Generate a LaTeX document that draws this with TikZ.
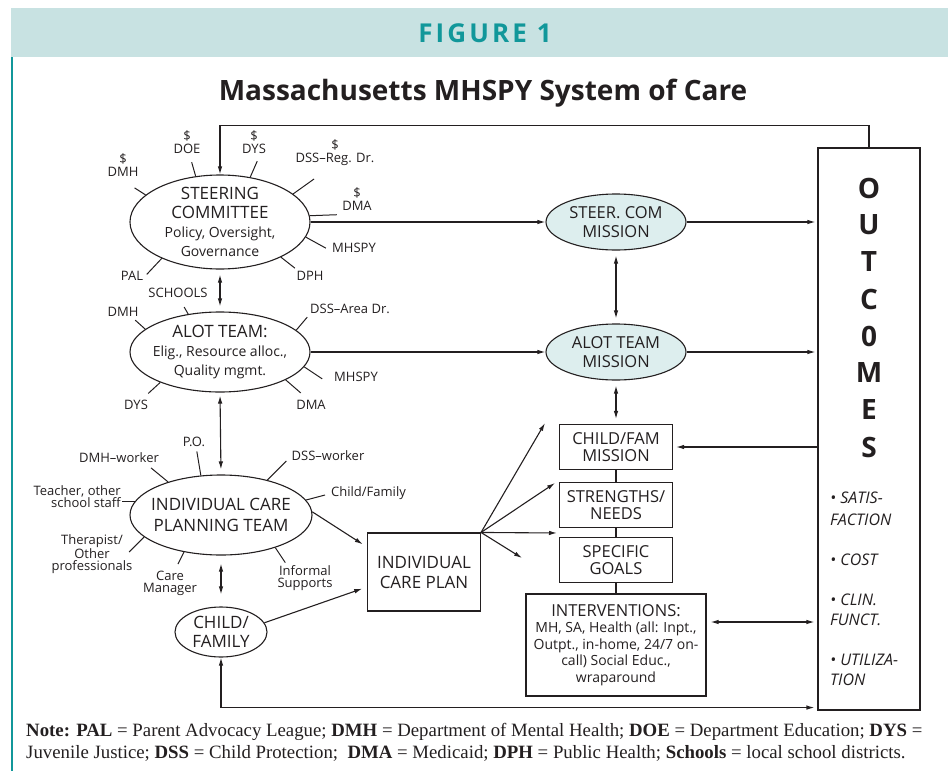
\documentclass[tikz,border=0pt]{standalone}
\usepackage{fontspec}
\setmainfont{Open Sans}
\newfontfamily\notefont{Liberation Serif}
\usepackage{tikz}
\usetikzlibrary{shapes.geometric, arrows.meta, calc}

\definecolor{bannerfill}{HTML}{C8E2E2}
\definecolor{figteal}{HTML}{11979A}
\definecolor{missionfill}{HTML}{DDEEEE}
\definecolor{ink}{HTML}{231F20}

\newcommand{\smalltext}{\fontsize{14}{16}\selectfont}

\begin{document}
\begin{tikzpicture}[
                x=1pt, y=-1pt, % pixel-like grid, y grows downwards
                every node/.style={text=ink, inner sep=1pt, font=\fontsize{13}{13}\selectfont},
                team/.style={ellipse, draw=ink, line width=1.1pt, fill=white, align=center, inner sep=-14pt}, % big ellipses
                mission/.style={team, fill=missionfill, minimum width=140pt, minimum height=56pt, font=\fontsize{16.5}{19.5}\selectfont},
                plan/.style={rectangle, draw=ink, line width=1.1pt, align=center, inner sep=2pt, minimum width=113pt, minimum height=45pt, font=\fontsize{16.5}{17}\selectfont},
                lbl/.style={align=center, font=\fontsize{13}{13}\selectfont}, % agency names round the ellipses
                outitem/.style={align=left, anchor=west, font=\fontsize{16}{22}\selectfont\itshape},
                note/.style={anchor=base west, inner sep=0pt, font=\notefont\fontsize{18.8}{22}\selectfont},
                link/.style={draw=ink, line width=1.1pt},
                spoke/.style={draw=ink, line width=1pt},
                dbl/.style={link, <->, shorten <=5pt, shorten >=5pt},
                >={Latex[length=8pt, width=4.5pt]}
                ]
\useasboundingbox (0,0) rectangle (948,771);

% header band
\fill[bannerfill] (11,8) rectangle (948,57);
\draw[figteal, line width=1.6pt] (11.8,57) -- (11.8,771);
\node[text=figteal, font={\fontsize{26}{26}\selectfont\bfseries\addfontfeature{LetterSpace=12}}] (fig) at (485,33) {FIGURE 1};
\node[font={\fontsize{28}{30}\selectfont\bfseries}] (title) at (483,93) {Massachusetts MHSPY System of Care};

% left column: the three teams and the family
\node[team, minimum width=180pt, minimum height=94pt, font=\fontsize{17}{19}\selectfont] (steer) at (220,222)
    {STEERING\\COMMITTEE\\\smalltext Policy, Oversight,\\\smalltext Governance};
\node[team, minimum width=180pt, minimum height=80pt, font=\fontsize{17}{19}\selectfont] (alot) at (220,352)
    {ALOT TEAM:\\\smalltext Elig., Resource alloc.,\\\smalltext Quality mgmt.};
\node[team, minimum width=182pt, minimum height=80pt, font=\fontsize{17}{20.5}\selectfont] (icpt) at (221,515) {INDIVIDUAL CARE\\PLANNING TEAM};
\node[team, minimum width=92pt, minimum height=50pt, font=\fontsize{17}{18.5}\selectfont] (cf) at (221,632) {CHILD/\\FAMILY};

% members of the steering committee
\node[lbl] (sDMH) at (123,165) {\$\\DMH};
\node[lbl] (sDOE) at (187,142) {\$\\DOE};
\node[lbl] (sDYS) at (254,142) {\$\\DYS};
\node[lbl] (sDSS) at (335,153) {\$\\DSS--Reg. Dr.};
\node[lbl] (sDMA) at (357,199) {\$\\DMA};
\node[lbl] (sMHSPY) at (354,248) {MHSPY};
\node[lbl] (sDPH) at (310,276) {DPH};
\node[lbl] (sPAL) at (132,276) {PAL};
\foreach \a/\dx/\dy in {160/-11/-7, 118/-4/-14, 56/7/-16, 21/21/-15, 4/27/-1, 350/20/11, 330/14/11, 212/-15/16}
    \draw[spoke] (steer.\a) -- ++(\dx,\dy);

% members of the ALOT team
\node[lbl] (aSCH) at (178,293) {SCHOOLS};
\node[lbl] (aDMH) at (123,312) {DMH};
\node[lbl] (aDSS) at (350,309) {DSS--Area Dr.};
\node[lbl] (aMHSPY) at (356,377) {MHSPY};
\node[lbl] (aDMA) at (311,405) {DMA};
\node[lbl] (aDYS) at (136,405) {DYS};
\foreach \a/\dx/\dy in {130/-4/-7, 163/-10/-9, 16/11/-13, 350/18/12, 337/15/13, 207/-12/11}
    \draw[spoke] (alot.\a) -- ++(\dx,\dy);

% members of the care planning team
\node[lbl] (iPO) at (194,442) {P.O.};
\node[lbl] (iDMH) at (119,458) {DMH--worker};
\node[lbl] (iDSS) at (328,456) {DSS--worker};
\node[lbl, align=right, anchor=east, font=\fontsize{13}{12}\selectfont] (iTeach) at (122,497) {Teacher, other\\school staff};
\node[lbl, anchor=west] (iCF) at (330,493) {Child/Family};
\node[lbl, font=\fontsize{13}{12}\selectfont] (iTher) at (92,554) {Therapist/\\Other\\professionals};
\node[lbl, font=\fontsize{13}{12}\selectfont] (iCM) at (170,583) {Care\\Manager};
\node[lbl, font=\fontsize{13}{11.5}\selectfont] (iInf) at (305,578) {Informal\\Supports};
\foreach \a/\dx/\dy in {117/-4/-24, 148/-17/-14, 37/19/-19, 171/-13/0, 10/19/-5, 196/-15/15, 225/-6/12, 329/10/15}
    \draw[spoke] (icpt.\a) -- ++(\dx,\dy);

% middle column
\node[mission] (stm) at (616,222) {STEER. COM\\MISSION};
\node[mission] (alm) at (616,352) {ALOT TEAM\\MISSION};
\node[plan, minimum height=78pt, font=\fontsize{17}{20}\selectfont] (plan) at (424,572) {INDIVIDUAL\\CARE PLAN};
\node[plan] (cfm) at (616,447) {CHILD/FAM\\MISSION};
\node[plan] (sn) at (616,505) {STRENGTHS/\\NEEDS};
\node[plan] (goals) at (616,560) {SPECIFIC\\GOALS};
\node[plan, minimum width=180pt, minimum height=102pt, font=\fontsize{14}{16.5}\selectfont] (iv) at (616,645)
    {\fontsize{16.5}{17}\selectfont INTERVENTIONS:\\MH, SA, Health (all: Inpt.,\\Outpt., in-home, 24/7 on-\\call) Social Educ.,\\wraparound};

% outcomes column
\node[rectangle, draw=ink, line width=1.1pt, minimum width=102pt, minimum height=562pt] (out) at (869,429) {};
\foreach \l [count=\i] in {O,U,T,C,0,M,E,S}
    \node[font=\fontsize{28}{28}\selectfont\bfseries] (o\i) at (869,151+37*\i) {\l};
\node[outitem] (oSat) at (829,509) {\textbullet\ SATIS-\\FACTION};
\node[outitem] (oCost) at (829,560) {\textbullet\ COST};
\node[outitem, font=\fontsize{16}{20}\selectfont\itshape] (oClin) at (829,610) {\textbullet\ CLIN.\\FUNCT.};
\node[outitem, font=\fontsize{16}{20}\selectfont\itshape] (oUtil) at (829,670) {\textbullet\ UTILIZA-\\TION};

% connectors
\draw[dbl] (steer.south) -- (alot.north);
\draw[dbl, shorten <=3pt] (alot.south) -- (icpt.north);
\draw[dbl, shorten <=8pt, shorten >=12pt] (icpt.south) -- (cf.north);
\draw[dbl] (stm.south) -- (alm.north);
\draw[dbl] (alm.south) -- (cfm.north);
\draw[link, ->] (steer.east) -- (stm.west);
\draw[link, ->] (alot.east) -- (alm.west);
\draw[link, ->, shorten >=2pt] (stm.east) -- (stm.east -| out.west);
\draw[link, ->, shorten >=2pt] (alm.east) -- (alm.east -| out.west);
\draw[link, ->, shorten >=3pt] (out.west |- cfm.east) -- (cfm.east);
\draw[link] (cfm.south) -- (sn.north) (sn.south) -- (goals.north) (goals.south) -- (iv.north);
\draw[link, ->, shorten >=5pt] (icpt.2) -- ($(plan.west)+(0,-25)$);
\draw[link, ->, shorten >=5pt] (cf.12) -- ($(plan.west)+(0,15)$);

% care plan fans out to the mission boxes
\coordinate (fanA) at (545,423);
\coordinate (fanB) at (555,483);
\coordinate (fanC) at (557,533);
\coordinate (fanD) at (522,558);
\foreach \c in {fanA, fanB, fanC, fanD}
    \draw[link, ->] (plan.north east) -- (\c);

\coordinate (ivR) at ($(iv.east)+(4,-23)$);
\draw[link, <->, shorten >=3pt] (ivR) -- (ivR -| out.west);

% feedback loops
\draw[link, ->] (out.north) -- ++(0,-22) -| (steer.north);
\draw[link, <->, shorten >=3pt] (cf.south) |- ($(out.south west)+(0,-3)$);

% abbreviations
\node[note] (note1) at (26,736) {\textbf{Note: PAL} = Parent Advocacy League; \textbf{DMH} = Department of Mental Health; \textbf{DOE} = Department Education; \textbf{DYS} =};
\node[note] (note2) at (26,758) {Juvenile Justice; \textbf{DSS} = Child Protection;\ \ \textbf{DMA} = Medicaid; \textbf{DPH} = Public Health; \textbf{Schools} = local school districts.};
\end{tikzpicture}
\end{document}
